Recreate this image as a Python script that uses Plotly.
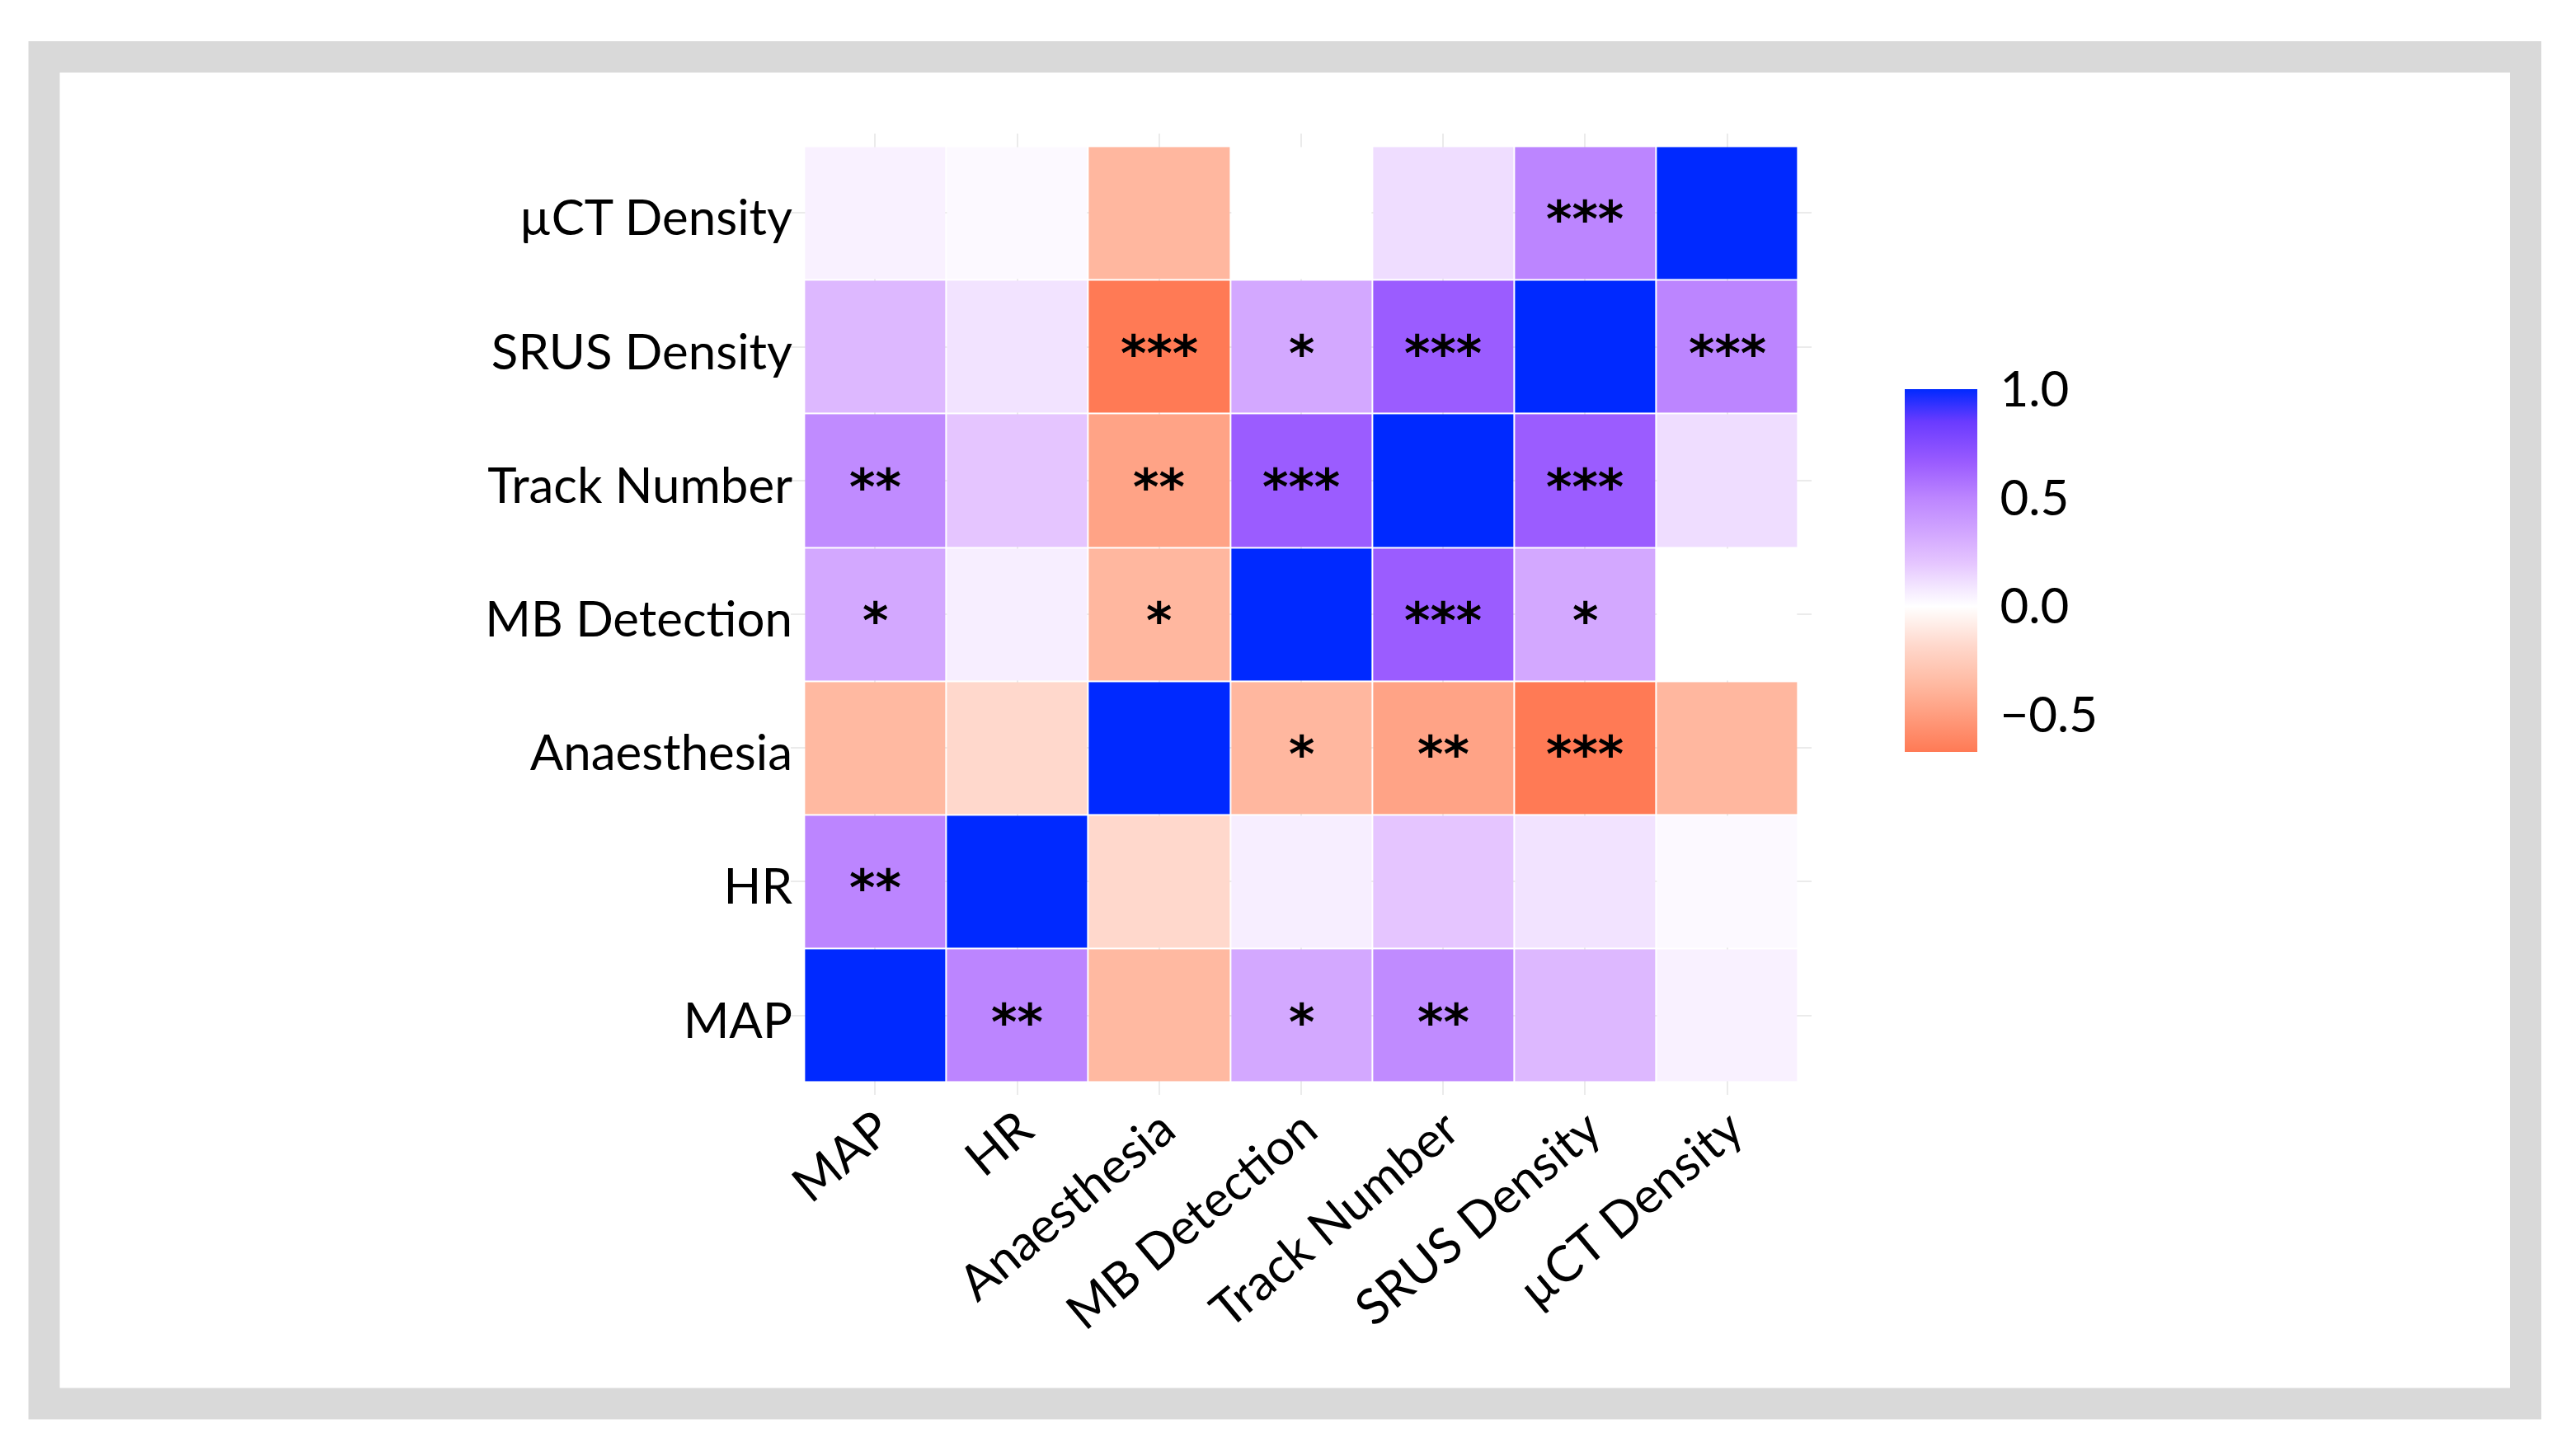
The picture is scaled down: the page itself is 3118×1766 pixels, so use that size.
"""Correlation heatmap of imaging / physiology measures with significance stars."""

import plotly.graph_objects as go

# variable names, bottom-to-top on y and left-to-right on x
variables = ["MAP", "HR", "Anaesthesia", "MB Detection",
             "Track Number", "SRUS Density", "µCT Density"]

# correlation coefficients, one row per y variable (same order as variables)
corr_map = [1.00, 0.50, -0.36, 0.33, 0.47, 0.26, 0.05]
corr_hr = [0.50, 1.00, -0.18, 0.06, 0.20, 0.10, 0.02]
corr_anaesthesia = [-0.36, -0.18, 1.00, -0.37, -0.47, -0.67, -0.37]
corr_mb = [0.33, 0.06, -0.37, 1.00, 0.66, 0.33, 0.00]
corr_track = [0.47, 0.20, -0.47, 0.66, 1.00, 0.66, 0.12]
corr_srus = [0.26, 0.10, -0.67, 0.33, 0.66, 1.00, 0.50]
corr_uct = [0.05, 0.02, -0.37, 0.00, 0.12, 0.50, 1.00]

# significance labels
sig_map = ["", "**", "", "*", "**", "", ""]
sig_hr = ["**", "", "", "", "", "", ""]
sig_anaesthesia = ["", "", "", "*", "**", "***", ""]
sig_mb = ["*", "", "*", "", "***", "*", ""]
sig_track = ["**", "", "**", "***", "", "***", ""]
sig_srus = ["", "", "***", "*", "***", "", "***"]
sig_uct = ["", "", "", "", "", "***", ""]

colorbar_ticks = [-0.5, 0.0, 0.5, 1.0]

z = [corr_map, corr_hr, corr_anaesthesia, corr_mb, corr_track, corr_srus, corr_uct]
stars = [sig_map, sig_hr, sig_anaesthesia, sig_mb, sig_track, sig_srus, sig_uct]

ZMIN, ZMAX = -0.67, 1.0

# red - white - blue scale
scale_points = [
    (-0.67, "#FF7A55"),
    (-0.47, "#FFA386"),
    (-0.36, "#FFB9A1"),
    (-0.18, "#FFD8CC"),
    (0.00, "#FFFFFF"),
    (0.10, "#F2E3FF"),
    (0.20, "#E5C5FF"),
    (0.33, "#D3A8FF"),
    (0.50, "#BC85FF"),
    (0.66, "#9B5CFF"),
    (0.85, "#6A3BFF"),
    (1.00, "#0029FF"),
]
colorscale = [[(v - ZMIN) / (ZMAX - ZMIN), c] for v, c in scale_points]

# page geometry (pixels); the html body adds an 8px margin
OFF = 8
W, H = 3118 - OFF, 1766 - OFF
L, R, T, B = 959 - OFF, 2197 - OFF, 162 - OFF, 1328 - OFF
PW, PH = R - L, B - T


def px_x(p):
    return (p - OFF - L) / PW


def px_y(p):
    return 1 - (p - OFF - T) / PH


FONT = "Lato"

fig = go.Figure()
fig.add_trace(go.Heatmap(
    x=variables,
    y=variables,
    z=z,
    zmin=ZMIN,
    zmax=ZMAX,
    colorscale=colorscale,
    xgap=2,
    ygap=2,
    hoverongaps=False,
    colorbar=dict(
        x=px_x(2310), xanchor="left", xpad=0,
        y=px_y(692), yanchor="middle", ypad=0,
        len=440, lenmode="pixels",
        thickness=88, thicknessmode="pixels",
        outlinewidth=0,
        tickvals=colorbar_ticks,
        ticktext=["−0.5", "0.0", "0.5", "1.0"],
        ticks="outside", ticklen=16, tickcolor="rgba(0,0,0,0)",
        tickfont=dict(family=FONT, size=60, color="black"),
    ),
))

annotations = []
for i, row in enumerate(stars):
    for j, s in enumerate(row):
        if s:
            annotations.append(dict(
                x=variables[j], y=variables[i], text=s, showarrow=False,
                font=dict(family="DejaVu Sans", size=60, color="black", weight="bold"),
                yshift=-8,
            ))

fig.update_layout(
    width=W,
    height=H,
    margin=dict(l=L, r=W - R, t=T, b=H - B, autoexpand=False),
    paper_bgcolor="white",
    plot_bgcolor="white",
    font=dict(family=FONT, color="black"),
    annotations=annotations,
    shapes=[dict(
        type="rect", xref="paper", yref="paper", layer="below",
        x0=px_x(53.5), x1=px_x(3063), y0=px_y(1702.5), y1=px_y(69),
        line=dict(color="#D9D9D9", width=38), fillcolor="rgba(0,0,0,0)",
    )],
)
fig.update_xaxes(
    range=[-0.595, 6.595], showgrid=True, gridcolor="#EBEBEB", gridwidth=2,
    zeroline=False, showline=False, ticks="", tickangle=-40,
    ticklabelstandoff=-6, ticklabelshift=4,
    tickfont=dict(family=FONT, size=60, color="black"),
)
fig.update_yaxes(
    range=[-0.595, 6.595], showgrid=True, gridcolor="#EBEBEB", gridwidth=2,
    zeroline=False, showline=False, ticks="",
    ticklabelshift=6, ticklabelstandoff=-3,
    tickfont=dict(family=FONT, size=60, color="black"),
)

fig.write_html("out.html")
